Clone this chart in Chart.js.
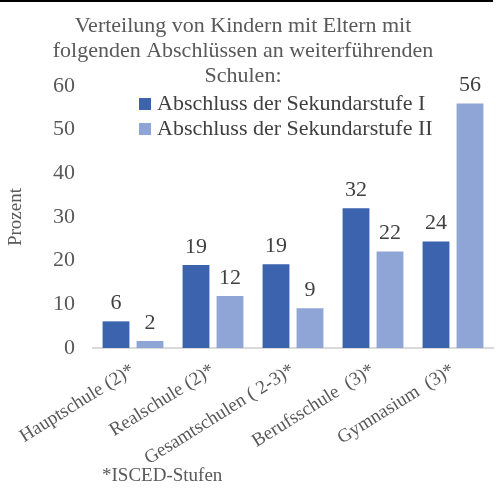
<!DOCTYPE html>
<html>
<head>
<meta charset="utf-8">
<script src="https://cdn.jsdelivr.net/npm/chart.js@4/dist/chart.umd.min.js"></script>
<style>
  html, body { margin: 0; padding: 0; background: #fff; }
  #wrap { position: relative; width: 497px; height: 488px; }
  #topline { position: absolute; left: 0; top: 0; width: 493px; height: 2px; background: #000; }
</style>
</head>
<body>
<div id="wrap">
  <canvas id="myChart" width="497" height="488"></canvas>
  <div id="topline"></div>
</div>
<script>
// --- Données ---
const categories = ['Hauptschule (2)*', 'Realschule (2)*', 'Gesamtschulen ( 2-3)*', 'Berufsschule  (3)*', 'Gymnasium  (3)*'];
const sekI  = [6.1, 19, 19.2, 32, 24.4];
const sekII = [1.6, 11.9, 9.1, 22.1, 56];
const seriesNames = ['Abschluss der Sekundarstufe I', 'Abschluss der Sekundarstufe II'];
const titleLines = ['Verteilung von Kindern mit Eltern mit', 'folgenden Abschlüssen an weiterführenden', 'Schulen:'];
const yTicks = [0, 10, 20, 30, 40, 50, 60];
const footnote = '*ISCED-Stufen';

const FONT = '"Liberation Serif", "Times New Roman", serif';
const DARK = '#3C64AE';
const LIGHT = '#8FA5D6';

// --- Titre, légende, étiquettes et note dessinés à la main ---
const overlay = {
    id: 'overlay',
    afterDatasetsDraw(chart) {
        const ctx = chart.ctx;
        ctx.save();

        // étiquettes de valeurs
        ctx.font = '22px ' + FONT;
        ctx.fillStyle = '#404040';
        ctx.textAlign = 'center';
        ctx.textBaseline = 'bottom';
        chart.data.datasets.forEach((ds, i) => {
            chart.getDatasetMeta(i).data.forEach((bar, j) => {
                ctx.fillText(Math.round(ds.data[j]), bar.x, bar.y - 7);
            });
        });

        // titre
        ctx.font = '22px ' + FONT;
        ctx.fillStyle = '#595959';
        ctx.textBaseline = 'middle';
        titleLines.forEach((line, i) => {
            ctx.fillText(line, 243, 26 + i * 25);
        });

        // légende
        ctx.textAlign = 'left';
        [DARK, LIGHT].forEach((c, i) => {
            const y = 104 + i * 25;
            ctx.fillStyle = c;
            ctx.fillRect(139, y - 6, 12, 12);
            ctx.fillStyle = '#404040';
            ctx.fillText(seriesNames[i], 157, y);
        });

        // note
        ctx.font = '19px ' + FONT;
        ctx.fillStyle = '#595959';
        ctx.fillText(footnote, 102, 476);

        ctx.restore();
    }
};

const ctx = document.getElementById('myChart').getContext('2d');
const chartInstance = new Chart(ctx, {
    type: 'bar',
    data: {
        labels: categories,
        datasets: [
            { label: seriesNames[0], data: sekI,  backgroundColor: DARK },
            { label: seriesNames[1], data: sekII, backgroundColor: LIGHT }
        ]
    },
    options: {
        responsive: false,
        animation: false,
        layout: { padding: { top: 86, left: 0, right: 4, bottom: 0 } },
        datasets: { bar: { categoryPercentage: 0.85, barPercentage: 0.79 } },
        plugins: {
            legend: { display: false },
            title: { display: false },
            tooltip: { enabled: false }
        },
        scales: {
            x: {
                grid: { display: false, drawTicks: false },
                border: { display: true, color: '#D9D9D9', width: 2 },
                ticks: {
                    minRotation: 32, maxRotation: 32,
                    padding: 11,
                    color: '#595959',
                    font: { family: FONT, size: 19 }
                },
                afterFit: s => { s.height = 140; }
            },
            y: {
                min: 0, max: 60,
                afterBuildTicks: s => { s.ticks = yTicks.map(v => ({ value: v })); },
                grid: { display: false, drawTicks: false },
                border: { display: false },
                ticks: {
                    padding: 18,
                    color: '#595959',
                    font: { family: FONT, size: 22 }
                },
                title: {
                    display: true,
                    text: 'Prozent',
                    color: '#595959',
                    font: { family: FONT, size: 19 },
                    padding: { top: 5, bottom: 0 }
                },
                afterFit: s => { s.width = 93; }
            }
        }
    },
    plugins: [overlay]
});
</script>
</body>
</html>
